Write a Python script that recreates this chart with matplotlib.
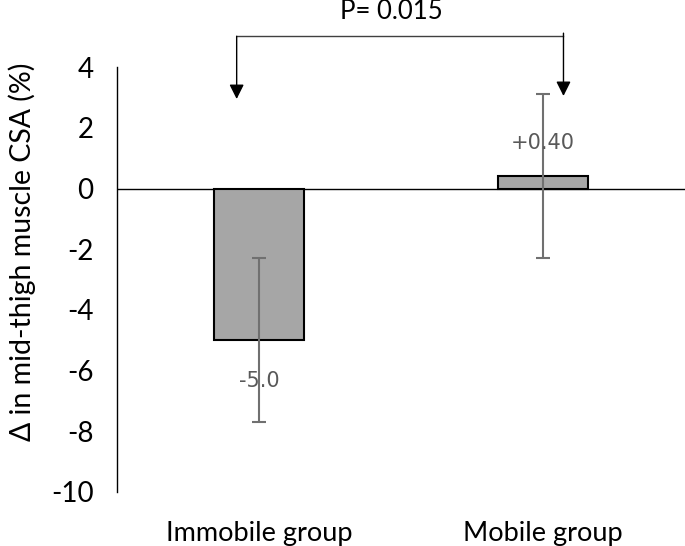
import matplotlib.pyplot as plt

# data
groups = ['Immobile group', 'Mobile group']
change = [-5.0, 0.40]
err = [2.7, 2.7]
value_text = ['-5.0', '+0.40']
p_text = 'P= 0.015'

plt.rcParams['font.family'] = ['Lato', 'DejaVu Sans']
plt.rcParams['axes.unicode_minus'] = False

fig = plt.figure(figsize=(6.85, 5.46), dpi=100)
ax = fig.add_axes([0.171, 0.099, 0.829, 0.778])

x = range(len(groups))
ax.bar(x, change, width=0.315, color='#a6a6a6', edgecolor='black', linewidth=1.5, zorder=2)
ax.errorbar(x, change, yerr=err, fmt='none', ecolor='#707070', elinewidth=1.5,
            capsize=5, capthick=1.5, zorder=3)
ax.axhline(0, color='black', linewidth=1, zorder=1)

# value labels
ax.text(0, -6.35, value_text[0], ha='center', va='center', fontsize=15,
        color='#595959', family='DejaVu Sans', zorder=4)
ax.text(1, 1.5, value_text[1], ha='center', va='center', fontsize=15,
        color='#595959', family='DejaVu Sans', zorder=4)

ax.set_xlim(-0.5, 1.5)
ax.set_ylim(-10, 4)
ax.set_yticks(range(-10, 5, 2))
ax.set_xticks(list(x))
ax.set_xticklabels(groups, fontsize=19.5)
ax.tick_params(axis='x', length=0, pad=21)
ax.tick_params(axis='y', length=0, labelsize=20, pad=17)
for s in ['top', 'right', 'bottom']:
    ax.spines[s].set_visible(False)
ax.spines['left'].set_linewidth(1)
ax.set_ylabel('Δ in mid-thigh muscle CSA (%)', fontsize=20.5)
ax.yaxis.set_label_coords(-0.143, 0.565)

# significance bracket
bx0, bx1, by = -0.079, 1.072, 5.02
ax.plot([bx0, bx1], [by, by], color='#404040', linewidth=1, clip_on=False)
ax.annotate('', xy=(bx0, 2.95), xytext=(bx0, by), annotation_clip=False,
            arrowprops=dict(arrowstyle='-|>', color='black', lw=1, mutation_scale=22,
                            shrinkA=0, shrinkB=0))
ax.annotate('', xy=(bx1, 3.05), xytext=(bx1, by + 0.1), annotation_clip=False,
            arrowprops=dict(arrowstyle='-|>', color='black', lw=1, mutation_scale=22,
                            shrinkA=0, shrinkB=0))
ax.text(0.465, 5.85, p_text, ha='center', va='center', fontsize=18.5, clip_on=False)

fig.savefig('out.png', dpi=100)
